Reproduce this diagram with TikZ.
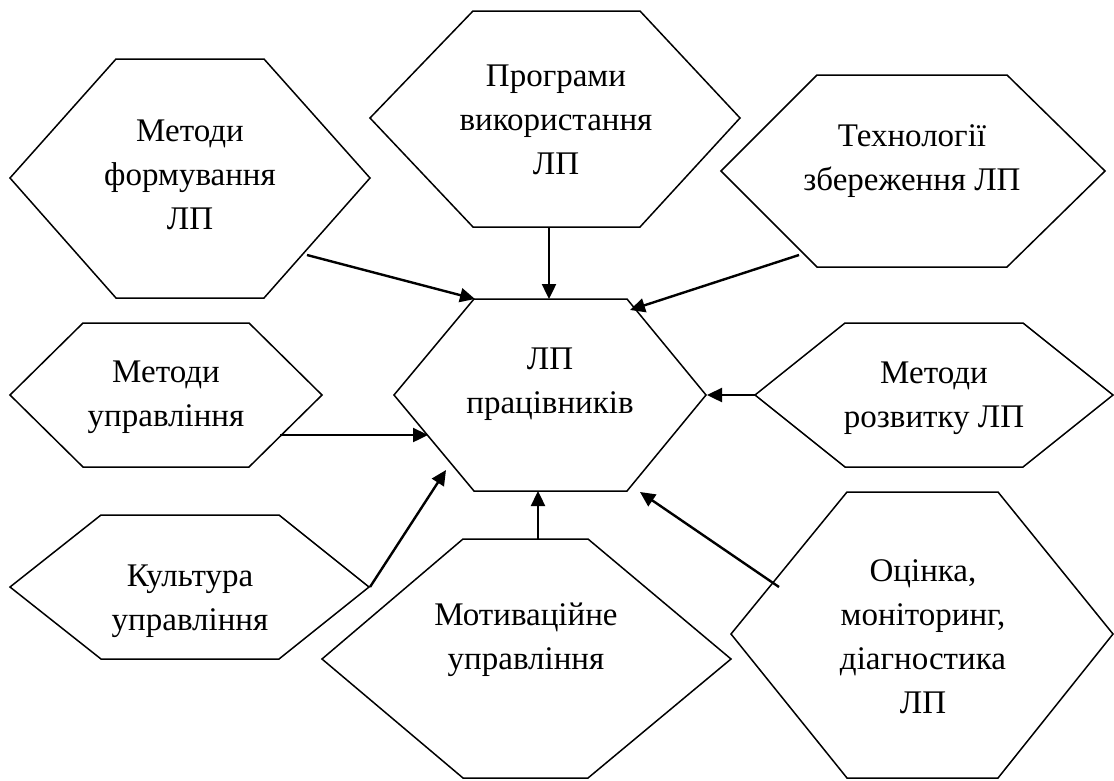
\documentclass[tikz,border=0pt]{standalone}
\usepackage{fontspec}
\setmainfont{Liberation Serif}
\usetikzlibrary{arrows.meta}
\tikzset{
  hexline/.style={draw=black, line width=1.5pt, line join=miter},
  lbl/.style={align=center, inner sep=0pt, font=\fontsize{33}{44}\selectfont},
  conn/.style={draw=black, line width=2.4pt, -{Triangle[length=15pt,width=14pt]}},
}
\newcommand\hexa[8]{%
  \draw[hexline] (#2,#7) coordinate (#1-L) -- (#3,#6) coordinate (#1-TL) -- (#4,#6) coordinate (#1-TR)
    -- (#5,#7) coordinate (#1-R) -- (#4,#8) coordinate (#1-BR) -- (#3,#8) coordinate (#1-BL) -- cycle;}
\begin{document}
\begin{tikzpicture}[x=1pt,y=-1pt]
\useasboundingbox (0,0) rectangle (1114,780);
% hexagons: name, xL, xTL, xTR, xR, yTop, yMid, yBottom
\hexa{h1}{10}{116}{264}{370}{59}{178}{298}
\hexa{h2}{370}{473}{640}{740}{11}{118}{227}
\hexa{h3}{721}{817}{1007}{1105}{75}{171}{267}
\hexa{hc}{394}{474}{627}{706}{299}{395}{491}
\hexa{h5}{10}{83}{249}{322}{323}{395}{467}
\hexa{h6}{10}{101}{279}{369}{515}{587}{659}
\hexa{h7}{322}{463}{588}{731}{539}{659}{778}
\hexa{h8}{755}{845}{1023}{1113}{323}{395}{467}
\hexa{h9}{731}{847}{998}{1113}{492}{634}{778}
% labels
\node[lbl] (t1) at (190,175) {Методи\\формування\\ЛП};
\node[lbl] (t2) at (556,120) {Програми\\використання\\ЛП};
\node[lbl] (t3) at (912,161) {Технології\\збереження ЛП};
\node[lbl] (tc) at (550,384) {ЛП\\працівників};
\node[lbl] (t5) at (166,397) {Методи\\управління};
\node[lbl] (t6) at (190,601) {Культура\\управління};
\node[lbl] (t7) at (526,640) {Мотиваційне\\управління};
\node[lbl] (t8) at (934,398) {Методи\\розвитку ЛП};
\node[lbl] (t9) at (923,637) {Оцінка,\\моніторинг,\\діагностика\\ЛП};
% connector end points
\coordinate (a1s) at (307,255); \coordinate (a1e) at (475,299);
\coordinate (a2s) at (549,227); \coordinate (a2e) at (549,299);
\coordinate (a3s) at (799,255); \coordinate (a3e) at (630,310);
\coordinate (a4s) at (280,435); \coordinate (a4e) at (428,435);
\coordinate (a5s) at (370,587); \coordinate (a5e) at (446,470);
\coordinate (a6s) at (538,539); \coordinate (a6e) at (538,491);
\coordinate (a7s) at (755,395); \coordinate (a7e) at (707,395);
\coordinate (a8s) at (779,587); \coordinate (a8e) at (640,492);
\draw[conn] (a1s) -- (a1e);
\draw[conn] (a2s) -- (a2e);
\draw[conn] (a3s) -- (a3e);
\draw[conn] (a4s) -- (a4e);
\draw[conn] (a5s) -- (a5e);
\draw[conn] (a6s) -- (a6e);
\draw[conn] (a7s) -- (a7e);
\draw[conn] (a8s) -- (a8e);
\end{tikzpicture}
\end{document}
